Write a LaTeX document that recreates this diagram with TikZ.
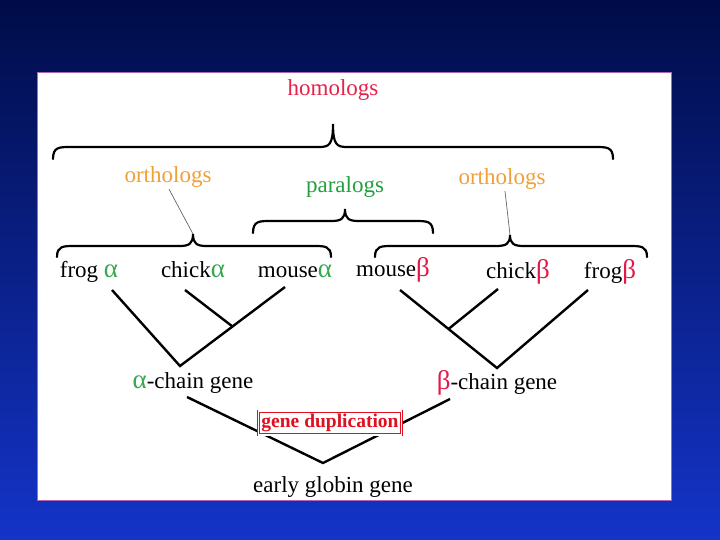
\documentclass[tikz,border=0pt]{standalone}
\usepackage{fontspec}
\setmainfont{Liberation Serif}
\usetikzlibrary{positioning,calc}

\definecolor{bgtop}{HTML}{000C48}
\definecolor{bgbot}{HTML}{1434C8}
\definecolor{homred}{HTML}{E8204A}
\definecolor{orthorange}{HTML}{F0A038}
\definecolor{paragreen}{HTML}{22A040}
\definecolor{alpgreen}{HTML}{38A850}
\definecolor{betred}{HTML}{E41848}
\definecolor{dupred}{HTML}{E01020}

% curly brace: left x, right x, tip x, end y, bar y, tip y
\newcommand{\cbrace}[6]{%
  \draw[brace] (#1,#4) .. controls (#1,#5) and (#1+6,#5) .. (#1+18,#5) -- (#3-14,#5)
    .. controls (#3-4,#5) and (#3,#5-2) .. (#3,#6)
    .. controls (#3,#5-2) and (#3+4,#5) .. (#3+14,#5) -- (#2-18,#5)
    .. controls (#2-6,#5) and (#2,#5) .. (#2,#4);}

\begin{document}
\begin{tikzpicture}[
  x=1pt, y=-1pt,
  lbl/.style={font=\fontsize{23}{25}\selectfont, anchor=base, inner sep=0pt},
  brace/.style={line width=2.2pt, line cap=round},
  pointer/.style={line width=0.7pt, gray!80!black},
  branch/.style={line width=2.4pt},
  dupbox/.style={draw=dupred, double=white, double distance=1.6pt, line width=0.7pt,
    fill=white, inner sep=3pt, font=\fontsize{19.5}{20}\selectfont\bfseries, text=dupred}
]
  \useasboundingbox (0,0) rectangle (720,540);
  \shade[top color=bgtop, bottom color=bgbot] (0,0) rectangle (720,540);
  \draw[fill=white, draw=violet!60] (37,72) rectangle (671,500);

  % group labels
  \node[lbl, text=homred] (homologs) at (333,96) {homologs};
  \node[lbl, text=orthorange] (orthL) at (168,183) {orthologs};
  \node[lbl, text=paragreen] (paralogs) at (345,193) {paralogs};
  \node[lbl, text=orthorange] (orthR) at (502,185) {orthologs};

  % braces
  \cbrace{53}{613}{333}{159}{147}{124}
  \cbrace{57}{331}{193}{257}{246}{234}
  \cbrace{253}{433}{345}{233}{221}{209}
  \cbrace{375}{647}{510}{257}{246}{235}
  \coordinate (tipL) at (193,234);
  \coordinate (tipR) at (510,235);
  \draw[pointer] ([xshift=1pt,yshift=-1pt]orthL.south) -- (tipL);
  \draw[pointer] ([xshift=3pt,yshift=-1pt]orthR.south) -- (tipR);

  % species
  \node[lbl] (frogA) at (89,277) {frog {\color{alpgreen}\fontsize{27}{28}\selectfont α}};
  \node[lbl] (chickA) at (193,277) {chick{\color{alpgreen}\fontsize{27}{28}\selectfont α}};
  \node[lbl] (mouseA) at (295,277) {mouse{\color{alpgreen}\fontsize{27}{28}\selectfont α}};
  \node[lbl] (mouseB) at (393,276) {mouse{\color{betred}\fontsize{27}{28}\selectfont β}};
  \node[lbl] (chickB) at (518,278) {chick{\color{betred}\fontsize{27}{28}\selectfont β}};
  \node[lbl] (frogB) at (610,278) {frog{\color{betred}\fontsize{27}{28}\selectfont β}};

  % alpha tree
  \coordinate (aFrog) at (112,290);
  \coordinate (aChick) at (185,290);
  \coordinate (aMouse) at (285,287);
  \coordinate (aRoot) at (180,366);
  \coordinate (aJoin) at ($(aMouse)!0.5!(aRoot)$);
  \draw[branch] (aFrog) -- (aRoot) -- (aMouse);
  \draw[branch] (aChick) -- (aJoin);

  % beta tree
  \coordinate (bMouse) at (400,290);
  \coordinate (bChick) at (498,289);
  \coordinate (bFrog) at (588,290);
  \coordinate (bRoot) at (497,368);
  \coordinate (bJoin) at ($(bMouse)!0.5!(bRoot)$);
  \draw[branch] (bMouse) -- (bRoot) -- (bFrog);
  \draw[branch] (bChick) -- (bJoin);

  % chain genes
  \node[lbl] (aChain) at (193,388) {{\color{alpgreen}\fontsize{27}{28}\selectfont α}-chain gene};
  \node[lbl] (bChain) at (497,389) {{\color{betred}\fontsize{27}{28}\selectfont β}-chain gene};
  \node[lbl] (globin) at (333,492) {early globin gene};

  \coordinate (aStem) at (187,397);
  \coordinate (bStem) at (450,399);
  \coordinate (gRoot) at (323,463);
  \draw[branch] (aStem) -- (gRoot) -- (bStem);

  \node[dupbox] (dup) at (330,423) {gene duplication};
\end{tikzpicture}
\end{document}
